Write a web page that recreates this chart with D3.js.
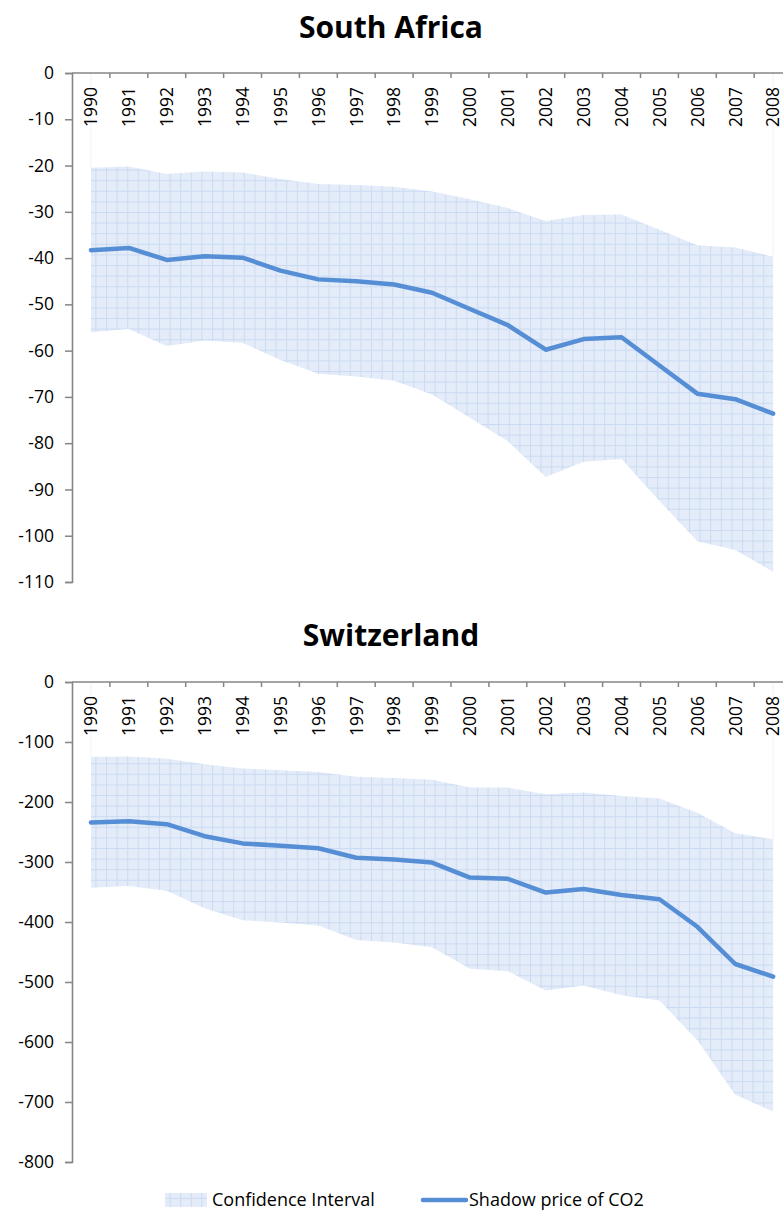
<!DOCTYPE html>
<html>
<head>
<meta charset="utf-8">
<script src="https://cdn.jsdelivr.net/npm/d3@7"></script>
<style>
  html, body { margin: 0; padding: 0; background: #fff; }
  svg { display: block; }
  text { font-family: "Open Sans", "Liberation Sans", sans-serif; fill: #000; }
</style>
</head>
<body>
<svg id="chart" width="783" height="1211"></svg>
<script>
// ---------- data ----------
const years = ["1990","1991","1992","1993","1994","1995","1996","1997","1998","1999",
               "2000","2001","2002","2003","2004","2005","2006","2007","2008"];

const saUpper = [-20.5,-20.2,-21.8,-21.3,-21.5,-22.9,-24.0,-24.2,-24.6,-25.6,
                 -27.3,-29.2,-32.0,-30.7,-30.6,-33.9,-37.2,-37.7,-39.7];
const saPrice = [-38.3,-37.8,-40.4,-39.6,-39.9,-42.7,-44.6,-45.0,-45.7,-47.5,
                 -51.0,-54.5,-59.8,-57.5,-57.1,-63.2,-69.3,-70.5,-73.6];
const saLower = [-56.0,-55.3,-59.0,-57.8,-58.3,-62.0,-65.0,-65.6,-66.5,-69.5,
                 -74.5,-79.6,-87.3,-84.0,-83.4,-92.5,-101.2,-103.1,-107.8];
const saTicks = [0,-10,-20,-30,-40,-50,-60,-70,-80,-90,-100,-110];

const chUpper = [-125,-124,-128,-137,-144,-147,-150,-158,-160,-163,
                 -176,-176,-187,-184,-190,-194,-218,-252,-262];
const chPrice = [-234,-232,-237,-257,-269,-273,-277,-293,-296,-301,
                 -326,-328,-351,-345,-355,-362,-408,-470,-491];
const chLower = [-343,-340,-348,-377,-397,-401,-406,-430,-434,-442,
                 -478,-482,-514,-506,-522,-531,-597,-688,-716];
const chTicks = [0,-100,-200,-300,-400,-500,-600,-700,-800];

const titles = ["South Africa", "Switzerland"];
const legendLabels = ["Confidence Interval", "Shadow price of CO2"];

// ---------- styling ----------
const lineColor = "#558ed5";
const axisColor = "#868686";

const svg = d3.select("#chart");

// grid pattern fill (Excel "small grid" look)
const defs = svg.append("defs");
const pat = defs.append("pattern")
  .attr("id", "ciPattern")
  .attr("patternUnits", "userSpaceOnUse")
  .attr("width", 10.6).attr("height", 10.6);
pat.append("rect").attr("width", 10.6).attr("height", 10.6).attr("fill", "#e3ecf8");
pat.append("rect").attr("x", 0).attr("y", 0).attr("width", 10.6).attr("height", 1).attr("fill", "#cbdbf3");
pat.append("rect").attr("x", 0).attr("y", 0).attr("width", 1).attr("height", 10.6).attr("fill", "#cbdbf3");

const x = d3.scaleBand().domain(years).range([72, 72 + 19 * 37.9]).padding(0);
const cx = d => x(d) + x.bandwidth() / 2;

function panel(cfg) {
  const y = d3.scaleLinear().domain([0, cfg.min]).range([cfg.top, cfg.bottom]);
  const g = svg.append("g");

  // title
  g.append("text")
    .attr("x", 391).attr("y", cfg.titleY)
    .attr("text-anchor", "middle")
    .style("font-size", "30px").style("font-weight", "bold")
    .text(cfg.title);

  const rows = years.map((yr, i) => ({ yr, hi: cfg.upper[i], lo: cfg.lower[i], v: cfg.price[i] }));
  // faint stacked-area edges
  g.append("line").attr("x1", cx(years[0])).attr("x2", cx(years[0]))
    .attr("y1", y(0)).attr("y2", y(cfg.upper[0])).attr("stroke", "#eef2f8").attr("stroke-width", 1);
  g.append("line").attr("x1", cx(years[18])).attr("x2", cx(years[18]))
    .attr("y1", y(0)).attr("y2", y(cfg.upper[18])).attr("stroke", "#eef2f8").attr("stroke-width", 1);

  // confidence band
  g.append("path").datum(rows)
    .attr("fill", "url(#ciPattern)")
    .attr("d", d3.area().x(d => cx(d.yr)).y0(d => y(d.lo)).y1(d => y(d.hi)));

  // price line
  g.append("path").datum(rows)
    .attr("fill", "none").attr("stroke", lineColor).attr("stroke-width", 4.5)
    .attr("stroke-linejoin", "round").attr("stroke-linecap", "round")
    .attr("d", d3.line().x(d => cx(d.yr)).y(d => y(d.v)));

  // y axis
  const ya = g.append("g").attr("transform", `translate(72,0)`)
    .call(d3.axisLeft(y).tickValues(cfg.ticks).tickSize(7).tickPadding(11)
      .tickFormat(d => String(d)));
  ya.select(".domain").attr("stroke", axisColor).attr("stroke-width", 1.6);
  ya.selectAll(".tick line").attr("stroke", axisColor).attr("stroke-width", 1.5);
  ya.selectAll(".tick text").style("font-size", "17.5px").attr("fill", "#000")
    .style("font-family", "'Open Sans', sans-serif");

  // x axis (at zero line, top)
  const xa = g.append("g").attr("transform", `translate(0,${y(0)})`);
  xa.append("line").attr("x1", 72).attr("x2", 792).attr("y1", 0).attr("y2", 0)
    .attr("stroke", axisColor).attr("stroke-width", 1.6);
  xa.selectAll("line.tk").data(years.slice(1)).join("line").attr("class", "tk")
    .attr("x1", d => x(d)).attr("x2", d => x(d)).attr("y1", 0).attr("y2", 5)
    .attr("stroke", axisColor).attr("stroke-width", 1.5);
  xa.selectAll("text.yr").data(years).join("text").attr("class", "yr")
    .attr("transform", d => `translate(${cx(d)},14) rotate(-90)`)
    .attr("text-anchor", "end").attr("dy", "0.36em")
    .style("font-size", "17.5px")
    .text(d => d);
}

panel({ title: titles[0], titleY: 38, top: 73, bottom: 582, min: -110,
        ticks: saTicks, upper: saUpper, lower: saLower, price: saPrice });
panel({ title: titles[1], titleY: 646, top: 682, bottom: 1162, min: -800,
        ticks: chTicks, upper: chUpper, lower: chLower, price: chPrice });

// legend
const lg = svg.append("g");
lg.append("rect").attr("x", 165).attr("y", 1193).attr("width", 42).attr("height", 14)
  .attr("fill", "url(#ciPattern)");
lg.append("text").attr("x", 212).attr("y", 1206).style("font-size", "18px").text(legendLabels[0]);
lg.append("line").attr("x1", 423).attr("x2", 466).attr("y1", 1200).attr("y2", 1200)
  .attr("stroke", lineColor).attr("stroke-width", 4.5).attr("stroke-linecap", "round");
lg.append("text").attr("x", 469).attr("y", 1206).style("font-size", "18px").text(legendLabels[1]);
</script>
</body>
</html>
